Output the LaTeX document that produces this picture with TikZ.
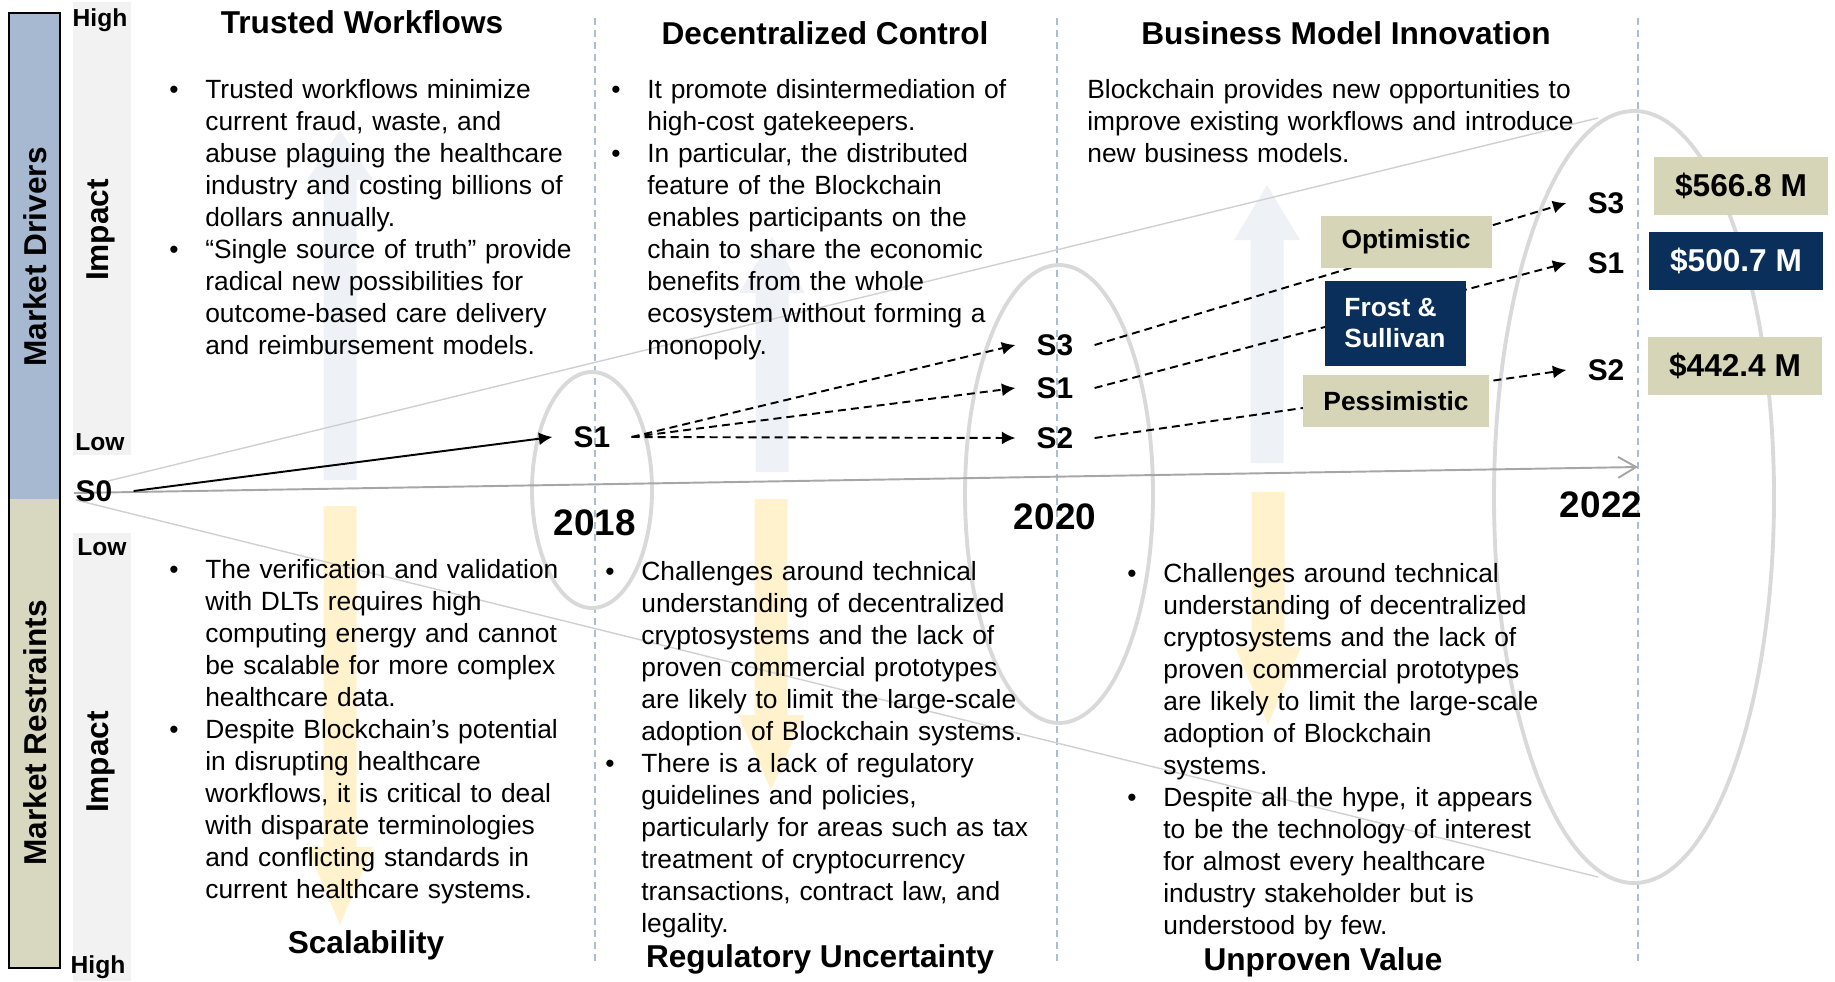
\documentclass[tikz,border=0pt]{standalone}
\usepackage{fontspec}
\setmainfont{Liberation Sans}
\usetikzlibrary{arrows.meta}

\definecolor{navy}{HTML}{0A2F5A}
\definecolor{tanbox}{HTML}{D6D5B7}
\definecolor{barblue}{HTML}{A6B9D0}
\definecolor{bartan}{HTML}{D8D8C0}
\definecolor{colgray}{HTML}{F2F2F2}
\definecolor{upfill}{HTML}{EEF2F7}
\definecolor{downfill}{HTML}{FFF2CC}
\definecolor{ringgray}{HTML}{D9D9D9}
\definecolor{fangray}{HTML}{D0D0D0}
\definecolor{axisgray}{HTML}{A6A6A6}
\definecolor{dashblue}{HTML}{A7BED5}

% bullet paragraphs
\newlength\bulind
\setlength\bulind{0.72cm}
\newcommand\bitem{\par\noindent\hangindent=\bulind\hangafter=1\makebox[\bulind][l]{\rule{0pt}{12pt}\textbullet}}
\newcommand\plainpar{\par\noindent\rule{0pt}{12pt}}

\tikzset{
  body/.style={anchor=north west, inner sep=0pt, text width=10.5cm, align=left, font=\fontsize{15}{18.2}\selectfont},
  head/.style={anchor=base, inner sep=0pt, font=\fontsize{18}{21}\selectfont\bfseries},
  scen/.style={inner xsep=0.42cm, inner ysep=2pt, font=\fontsize{17}{20}\selectfont\bfseries},
  yearlab/.style={inner sep=0pt, font=\fontsize{21}{24}\selectfont\bfseries},
  lvl/.style={inner sep=0pt, font=\fontsize{14}{16}\selectfont\bfseries},
  sidelab/.style={rotate=90, inner sep=0pt, font=\fontsize{18}{21}\selectfont\bfseries},
  tagbox/.style={fill=tanbox, inner sep=0pt, align=left, font=\fontsize{15}{18}\selectfont\bfseries},
  valbox/.style={fill=tanbox, inner sep=0pt, minimum width=3.48cm, minimum height=1.17cm, font=\fontsize{18}{21}\selectfont\bfseries},
  ring/.style={draw=ringgray, line width=2.2pt},
  fanline/.style={draw=fangray, line width=0.8pt},
  yearline/.style={draw=dashblue, line width=0.8pt, dash pattern=on 0.14cm off 0.1cm},
  solidarr/.style={line width=1.1pt, -{Latex[length=0.27cm, width=0.26cm]}},
  scenarr/.style={solidarr, dash pattern=on 0.16cm off 0.1cm},
}

\begin{document}
\begin{tikzpicture}[x=0.02cm, y=-0.02cm]
    \useasboundingbox (0,0) rectangle (1835,981);

    % Impact scale and side bar
    \fill[colgray] (73,2) rectangle (131,455);
    \fill[colgray] (73,533) rectangle (131,981);
    \fill[barblue] (9,13) rectangle (60,499);
    \fill[bartan] (9,499) rectangle (60,968);
    \draw[line width=1.1pt] (9,13) rectangle (60,968);

    % Faded impact arrows
    \foreach \cx/\tip/\hb/\bot in {340/130/180/480, 772/237/293/472, 1267/185/240/463}
        \fill[upfill] ({\cx-16.5},\bot) -- ({\cx-16.5},\hb) -- ({\cx-33},\hb) -- (\cx,\tip)
            -- ({\cx+33},\hb) -- ({\cx+16.5},\hb) -- ({\cx+16.5},\bot) -- cycle;
    \foreach \cx/\top/\hb/\tip in {340/506/847/925, 771/499/715/790, 1268/492/647/725}
        \fill[downfill] ({\cx-16.5},\top) -- ({\cx-16.5},\hb) -- ({\cx-33},\hb) -- (\cx,\tip)
            -- ({\cx+33},\hb) -- ({\cx+16.5},\hb) -- ({\cx+16.5},\top) -- cycle;

    % Year lines and rings
    \foreach \x in {595,1057,1638}
        \draw[yearline] (\x,18) -- (\x,965);
    \draw[ring] (592,490) ellipse [x radius=60, y radius=118];
    \draw[ring] (1059,494) ellipse [x radius=94, y radius=229];
    \draw[ring] (1634,497) ellipse [x radius=140, y radius=386];

    % Fan and time axis
    \coordinate (fantop0) at (108,481);
    \coordinate (fantop1) at (1598,118);
    \coordinate (fanbot0) at (76,500);
    \coordinate (fanbot1) at (1598,877);
    \coordinate (axis0) at (74,493);
    \coordinate (axis1) at (1638,467);
    \draw[fanline] (fantop0) -- (fantop1);
    \draw[fanline] (fanbot0) -- (fanbot1);
    \draw[axisgray, line width=1.1pt, -{Straight Barb[length=0.36cm, width=0.42cm]}] (axis0) -- (axis1);

    % Side labels
    \node[sidelab] (drv) at (35,257) {Market Drivers};
    \node[sidelab] (rst) at (35,733) {Market Restraints};
    \node[sidelab] (imp1) at (101,230) {Impact};
    \node[sidelab] (imp2) at (101,762) {Impact};
    \node[lvl] (hi1) at (100,20) {High};
    \node[lvl] (lo1) at (100,442) {Low};
    \node[lvl] (lo2) at (102,547) {Low};
    \node[lvl] (hi2) at (98,967) {High};

    % Headings
    \node[head] (tw) at (362,33) {Trusted Workflows};
    \node[head] (dc) at (825,44.5) {Decentralized Control};
    \node[head] (bm) at (1346,44.5) {Business Model Innovation};
    \node[head] (sc) at (366,953) {Scalability};
    \node[head] (ru) at (820,967) {Regulatory Uncertainty};
    \node[head] (uv) at (1323,970) {Unproven Value};

    % Drivers text
    \node[body] (twtxt) at (169,66) {%
        \bitem Trusted workflows minimize\newline current fraud, waste, and\newline abuse plaguing the healthcare\newline
        industry and costing billions of\newline dollars annually.
        \bitem “Single source of truth” provide\newline radical new possibilities for\newline
        outcome-based care delivery\newline and reimbursement models.\par};
    \node[body] (dctxt) at (611,66) {%
        \bitem It promote disintermediation of\newline high-cost gatekeepers.
        \bitem In particular, the distributed\newline feature of the Blockchain\newline enables participants on the\newline
        chain to share the economic\newline benefits from the whole\newline ecosystem without forming a\newline monopoly.\par};
    \node[body] (bmtxt) at (1087,66) {%
        \plainpar Blockchain provides new opportunities to\newline improve existing workflows and introduce\newline
        new business models.\par};

    % Restraints text
    \node[body] (sctxt) at (169,546) {%
        \bitem The verification and validation\newline with DLTs requires high\newline computing energy and cannot\newline
        be scalable for more complex\newline healthcare data.
        \bitem Despite Blockchain’s potential\newline in disrupting healthcare\newline workflows, it is critical to deal\newline
        with disparate terminologies\newline and conflicting standards in\newline current healthcare systems.\par};
    \node[body] (rutxt) at (605,548) {%
        \bitem Challenges around technical\newline understanding of decentralized\newline cryptosystems and the lack of\newline
        proven commercial prototypes\newline are likely to limit the large-scale\newline adoption of Blockchain systems.
        \bitem There is a lack of regulatory\newline guidelines and policies,\newline particularly for areas such as tax\newline
        treatment of cryptocurrency\newline transactions, contract law, and\newline legality.\par};
    \node[body] (uvtxt) at (1127,550) {%
        \bitem Challenges around technical\newline understanding of decentralized\newline cryptosystems and the lack of\newline
        proven commercial prototypes\newline are likely to limit the large-scale\newline adoption of Blockchain\newline systems.
        \bitem Despite all the hype, it appears\newline to be the technology of interest\newline for almost every healthcare\newline
        industry stakeholder but is\newline understood by few.\par};

    % Scenarios
    \node[scen] (s0) at (94,491) {S0};
    \node[scen] (s1a) at (592,437) {S1};
    \node[scen] (s3b) at (1055,345) {S3};
    \node[scen] (s1b) at (1055,388) {S1};
    \node[scen] (s2b) at (1055,438) {S2};
    \node[scen] (s3c) at (1606,203) {S3};
    \node[scen] (s1c) at (1606,263) {S1};
    \node[scen] (s2c) at (1606,370) {S2};
    \node[yearlab] (y2018) at (595,523) {2018};
    \node[yearlab] (y2020) at (1055,517) {2020};
    \node[yearlab] (y2022) at (1601,505) {2022};

    \draw[solidarr] (s0.east) -- (s1a.west);
    \foreach \t in {s3b,s1b,s2b}
        \draw[scenarr] (s1a.east) -- (\t.west);
    \draw[scenarr] (s3b.east) -- (s3c.west);
    \draw[scenarr] (s1b.east) -- (s1c.west);
    \draw[scenarr] (s2b.east) -- (s2c.west);

    % Forecast boxes
    \node[tagbox, minimum width=3.42cm, minimum height=1.04cm] (opt) at (1406,242) {Optimistic};
    \node[tagbox, fill=navy, text=white, minimum width=2.82cm, minimum height=1.7cm] (fs) at (1395,323) {Frost \&\\Sullivan};
    \node[tagbox, minimum width=3.72cm, minimum height=1.04cm] (pess) at (1396,401) {Pessimistic};
    \node[valbox] (v3) at (1741,186) {\$566.8 M};
    \node[valbox, fill=navy, text=white] (v1) at (1736,261) {\$500.7 M};
    \node[valbox] (v2) at (1735,366) {\$442.4 M};
\end{tikzpicture}
\end{document}
